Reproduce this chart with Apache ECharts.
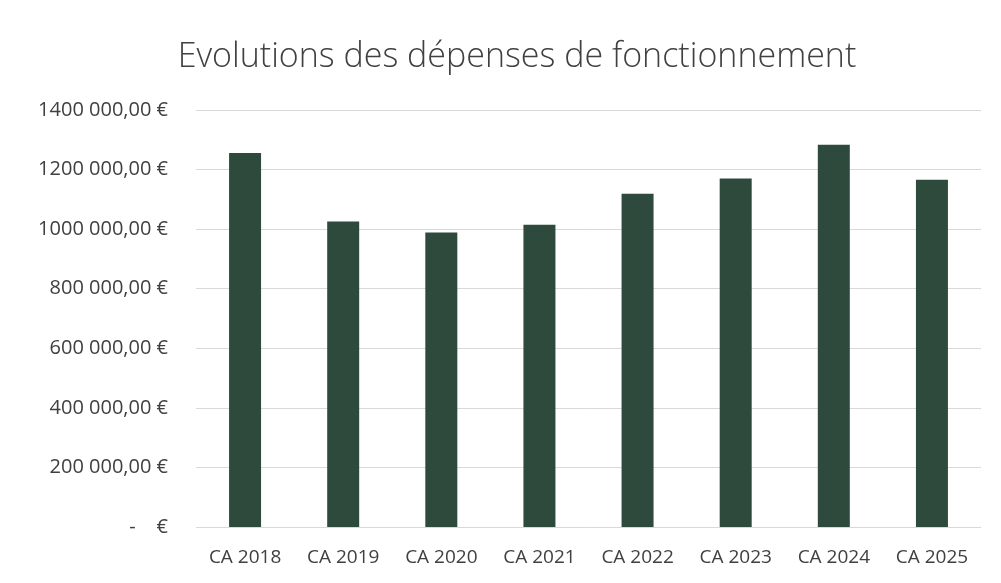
<!DOCTYPE html>
<html>
<head>
<meta charset="utf-8">
<script src="https://cdn.jsdelivr.net/npm/echarts@6/dist/echarts.min.js"></script>
<style>
  html, body { margin: 0; padding: 0; background: #fff; }
  #chart { width: 1001px; height: 583px; }
</style>
</head>
<body>
<div id="chart"></div>
<script>
// données
const categories = ["CA 2018", "CA 2019", "CA 2020", "CA 2021", "CA 2022", "CA 2023", "CA 2024", "CA 2025"];
const depenses = [1256000, 1026000, 989000, 1015000, 1119000, 1170000, 1283000, 1166000];

function formatEuro(v) {
  if (v === 0) return "-    €";
  // format comme dans le tableur : "1400 000,00 €"
  const thousands = Math.floor(v / 1000);
  const rest = String(v % 1000).padStart(3, "0");
  return thousands + " " + rest + ",00 €";
}

const chart = echarts.init(document.getElementById("chart"));
chart.setOption({
  animation: false,
  textStyle: { fontFamily: "Open Sans" },
  title: {
    text: "Evolutions des dépenses de fonctionnement",
    left: 512,
    textAlign: "center",
    top: 35,
    textStyle: {
      fontFamily: "Open Sans",
      fontSize: 34,
      fontWeight: 300,
      color: "#404040",
    },
  },
  grid: {
    left: 196,
    right: 20,
    top: 110,
    bottom: 56,
    containLabel: false,
  },
  xAxis: {
    type: "category",
    data: categories,
    axisLine: { show: false },
    axisTick: { show: false },
    axisLabel: {
      interval: 0,
      color: "#404040",
      fontSize: 19,
      margin: 21,
    },
  },
  yAxis: {
    type: "value",
    min: 0,
    max: 1400000,
    interval: 200000,
    axisLine: { show: false },
    axisTick: { show: false },
    axisLabel: {
      color: "#404040",
      fontSize: 20,
      margin: 28,
      formatter: formatEuro,
    },
    splitLine: {
      lineStyle: { color: "#d9d9d9", width: 1 },
    },
  },
  series: [
    {
      type: "bar",
      data: depenses,
      barWidth: 32,
      itemStyle: { color: "#2e4a3d" },
    },
  ],
});
</script>
</body>
</html>
